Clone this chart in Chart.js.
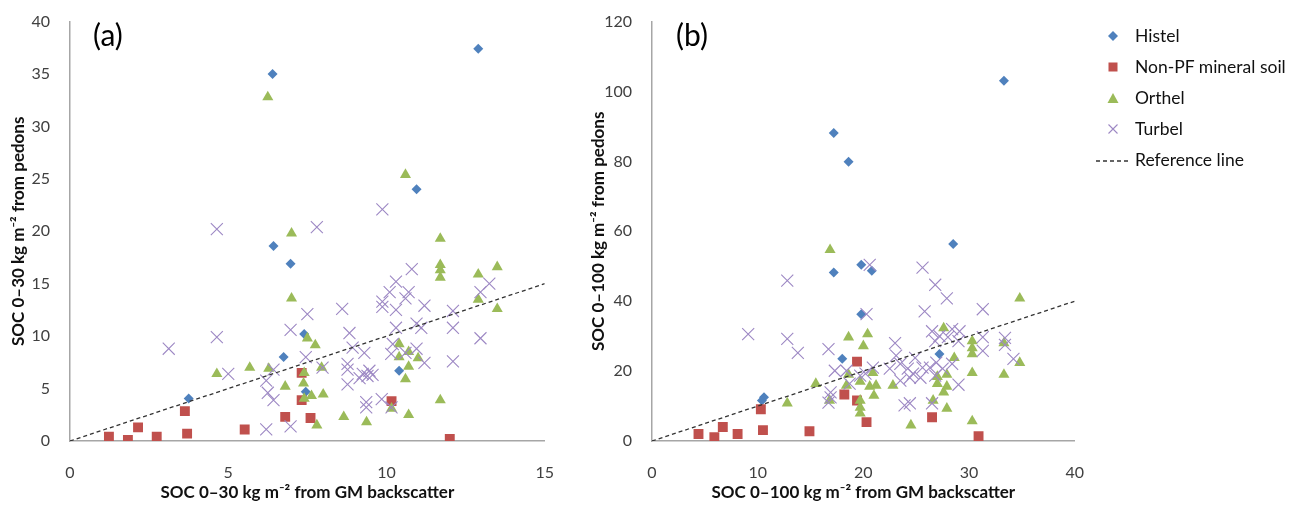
<!DOCTYPE html>
<html>
<head>
<meta charset="utf-8">
<title>SOC from pedons vs GM backscatter</title>
<script src="https://cdn.jsdelivr.net/npm/chart.js@4.4.0/dist/chart.umd.min.js"></script>
<style>
  html, body { margin: 0; padding: 0; background: #fff; }
  body { width: 1298px; height: 506px; position: relative; overflow: hidden; font-family: Lato, "Noto Sans", sans-serif; }
  canvas { position: absolute; top: 0; }
  #chartA { left: 0; }
  #chartB { left: 580px; }
  .tag { position: absolute; top: 16px; font-size: 30px; color: #000; }
  #legend { position: absolute; left: 1096px; top: 20px; font-size: 17.5px; color: #111; }
  #legend .row { height: 31px; display: flex; align-items: center; }
  #legend svg { width: 34px; height: 20px; margin-right: 5px; }
</style>
</head>
<body>
<canvas id="chartA" width="568" height="506"></canvas>
<canvas id="chartB" width="518" height="506"></canvas>
<div class="tag" style="left:93px">(a)</div>
<div class="tag" style="left:676px">(b)</div>

<div id="legend">
  <div class="row"><svg viewBox="0 0 34 20"><polygon points="17,5 22,10 17,15 12,10" fill="#4F81BD"/></svg>Histel</div>
  <div class="row"><svg viewBox="0 0 34 20"><rect x="12.5" y="5.5" width="9" height="9" fill="#C0504D"/></svg>Non-PF mineral soil</div>
  <div class="row"><svg viewBox="0 0 34 20"><polygon points="17,5 22.5,15 11.5,15" fill="#9BBB59"/></svg>Orthel</div>
  <div class="row"><svg viewBox="0 0 34 20"><path d="M12.5 5.5 L21.5 14.5 M21.5 5.5 L12.5 14.5" stroke="#9D88C4" stroke-width="1.1"/></svg>Turbel</div>
  <div class="row"><svg viewBox="0 0 34 20"><line x1="0" y1="11" x2="33" y2="11" stroke="#333" stroke-width="1.3" stroke-dasharray="4,3"/></svg>Reference line</div>
</div>

<script>
// (a) SOC 0-30 cm, [backscatter estimate, pedon value]
var histelA = [[6.4, 35.0], [12.9, 37.4], [10.95, 24.0], [6.43, 18.6], [6.97, 16.9], [7.4, 10.2], [6.75, 8.0], [3.75, 4.05], [10.4, 6.7], [7.45, 4.7]];
var nonPfA = [[1.23, 0.4], [1.83, 0.1], [2.15, 1.3], [2.74, 0.4], [3.7, 0.7], [3.63, 2.85], [5.52, 1.1], [6.8, 2.3], [7.32, 6.5], [7.32, 3.9], [7.6, 2.2], [10.16, 3.8], [12.0, 0.2]];
var orthelA = [[6.25, 32.8], [10.6, 25.4], [7.0, 19.8], [7.0, 13.6], [7.5, 9.8], [4.64, 6.4], [5.68, 7.0], [6.28, 6.9], [7.4, 6.5], [6.8, 5.2], [7.38, 5.5], [7.4, 4.05],
  [11.7, 19.3], [11.7, 16.8], [11.7, 16.3], [11.7, 15.6], [13.5, 16.6], [12.9, 15.9], [12.9, 13.5], [13.5, 12.6], [10.4, 9.25], [7.75, 9.15], [10.4, 8.0], [10.7, 8.5],
  [11.0, 7.9], [7.95, 7.0], [10.7, 7.1], [10.6, 5.9], [7.63, 4.3], [8.0, 4.45], [10.16, 3.1], [11.7, 3.9], [8.65, 2.3], [9.37, 1.8], [10.7, 2.5], [7.8, 1.5]];
var turbelA = [[9.87, 22.1], [7.8, 20.4], [4.64, 20.2], [7.5, 12.1], [6.97, 10.6], [4.64, 9.9], [3.12, 8.8], [7.45, 8.0], [5.0, 6.4], [6.43, 6.8], [6.2, 5.75],
  [6.25, 4.6], [6.43, 3.9], [6.2, 1.1], [6.97, 1.4], [10.8, 16.4], [10.3, 15.2], [13.25, 15.0], [12.97, 14.2], [10.1, 14.2], [10.7, 14.2], [9.87, 13.3], [10.6, 13.6],
  [9.87, 12.8], [10.3, 12.5], [11.2, 12.9], [8.6, 12.6], [12.1, 12.4], [10.95, 11.2], [11.1, 10.8], [10.3, 10.8], [12.1, 10.8], [12.97, 9.8], [8.83, 10.3], [8.93, 8.9],
  [10.2, 9.25], [9.3, 8.4], [10.15, 8.3], [10.6, 8.4], [10.95, 8.8], [11.2, 7.45], [12.1, 7.6], [7.98, 7.0], [8.77, 7.35], [8.77, 6.8], [8.77, 5.4], [9.25, 6.4],
  [9.46, 6.7], [9.4, 6.2], [9.56, 6.3], [9.15, 6.0], [9.85, 4.0], [9.36, 3.7], [9.36, 3.2], [10.16, 3.2]];
var refA = [[0, 0], [15, 15]];

// (b) SOC 0-100 cm
var histelB = [[17.2, 88.1], [18.6, 79.9], [33.3, 103.1], [19.8, 50.4], [20.8, 48.7], [17.2, 48.2], [19.8, 36.3], [18.0, 23.5], [10.6, 12.5], [10.4, 11.6], [28.5, 56.4], [27.2, 24.9]];
var nonPfB = [[19.4, 22.7], [18.2, 13.3], [19.4, 11.6], [20.3, 5.4], [10.3, 9.1], [6.7, 4.0], [4.4, 2.0], [5.9, 1.1], [8.1, 2.0], [10.5, 3.1], [14.9, 2.8], [26.5, 6.8], [30.9, 1.4]];
var orthelB = [[16.85, 54.7], [18.6, 29.7], [20.4, 30.6], [20.0, 27.2], [18.6, 19.0], [19.7, 17.0], [15.5, 16.4], [18.4, 15.9], [16.8, 11.6], [19.7, 11.6], [19.7, 9.6],
  [19.7, 7.9], [12.8, 10.8], [34.8, 40.8], [27.6, 32.3], [30.3, 28.6], [30.3, 26.6], [30.3, 24.9], [33.3, 28.0], [34.8, 22.4], [28.6, 23.8], [20.9, 19.5], [20.6, 15.6],
  [21.2, 15.9], [21.0, 13.0], [22.8, 15.9], [27.0, 18.4], [27.0, 16.4], [27.9, 19.0], [27.9, 15.6], [27.6, 13.9], [30.3, 19.5], [33.3, 19.0], [26.6, 11.6], [27.9, 9.3],
  [24.5, 4.5], [30.3, 5.7]];
var turbelB = [[12.8, 45.9], [20.3, 36.3], [9.1, 30.6], [12.8, 29.2], [13.8, 25.2], [16.7, 26.3], [17.3, 20.1], [18.4, 20.1], [19.7, 18.7], [18.7, 16.4], [16.9, 13.9],
  [16.9, 12.5], [16.7, 11.0], [20.6, 50.4], [25.6, 49.6], [26.8, 44.7], [27.9, 40.8], [25.8, 37.1], [31.3, 37.7], [26.5, 31.4], [27.2, 30.0], [28.4, 32.0], [29.1, 31.4],
  [29.0, 28.6], [28.0, 29.7], [26.8, 28.6], [31.3, 29.7], [31.3, 25.8], [33.4, 29.5], [33.4, 27.5], [34.2, 23.5], [23.0, 28.0], [23.1, 24.4], [24.9, 23.8], [22.5, 20.7],
  [23.5, 22.1], [24.2, 20.7], [24.7, 19.3], [25.6, 21.0], [25.4, 18.1], [24.4, 18.1], [23.5, 17.3], [26.9, 22.4], [26.3, 21.0], [27.5, 20.7], [28.4, 22.1], [26.8, 18.7],
  [20.9, 21.0], [20.2, 19.3], [29.0, 16.1], [23.9, 10.2], [24.4, 10.8], [26.5, 10.8]];
var refB = [[0, 0], [40, 40]];

// axis ticks
var xTicksA = [0, 5, 10, 15];
var yTicksA = [0, 5, 10, 15, 20, 25, 30, 35, 40];
var xTicksB = [0, 10, 20, 30, 40];
var yTicksB = [0, 20, 40, 60, 80, 100, 120];

function pts(list) {
  return list.map(function (p) { return { x: p[0], y: p[1] }; });
}

function makeDatasets(histel, nonPf, orthel, turbel, ref) {
  return [
    { label: 'Histel', data: pts(histel), pointStyle: 'rectRot', pointRadius: 5, backgroundColor: '#4F81BD', borderColor: '#4F81BD', borderWidth: 0, order: 4 },
    { label: 'Non-PF mineral soil', data: pts(nonPf), pointStyle: 'rect', pointRadius: 7, backgroundColor: '#C0504D', borderColor: '#C0504D', borderWidth: 0, order: 3 },
    { label: 'Orthel', data: pts(orthel), pointStyle: 'triangle', pointRadius: 6.4, backgroundColor: '#9BBB59', borderColor: '#9BBB59', borderWidth: 0, order: 2 },
    { label: 'Turbel', data: pts(turbel), pointStyle: 'crossRot', pointRadius: 8.5, backgroundColor: '#9D88C4', borderColor: '#9D88C4', borderWidth: 1.1, order: 1 },
    { label: 'Reference line', data: pts(ref), showLine: true, pointRadius: 0, borderColor: '#333', borderWidth: 1.3, borderDash: [4, 3], order: 0 }
  ];
}

function axis(ticks, title, side) {
  var isX = side === 'x';
  return {
    type: 'linear',
    min: ticks[0],
    max: ticks[ticks.length - 1],
    afterBuildTicks: function (s) { s.ticks = ticks.map(function (v) { return { value: v }; }); },
    afterFit: isX ? function (s) { s.height = 65; } : function (s) { s.width = s.chart.canvas.id === 'chartA' ? 70 : 72; },
    grid: { display: false },
    border: { color: '#A6A6A6', width: 1.5 },
    ticks: { color: '#404040', font: { family: 'Lato', size: 16 }, padding: isX ? 14 : 12 },
    title: {
      display: true, text: title, color: '#111',
      font: { family: 'Lato', size: 17, weight: 'bold' },
      padding: isX ? { top: 0, bottom: 3 } : { top: 8, bottom: 0 }
    }
  };
}

// the last x label plus its padding sets the right margin, so the canvas width decides where the plot ends
function makeChart(id, sets, xTicks, yTicks, xTitle, yTitle) {
  new Chart(document.getElementById(id), {
    type: 'scatter',
    data: { datasets: sets },
    options: {
      responsive: false,
      animation: false,
      layout: { padding: { top: 17, right: 0, bottom: 0, left: 0 } },
      plugins: { legend: { display: false }, tooltip: { enabled: false } },
      scales: {
        x: axis(xTicks, xTitle, 'x'),
        y: axis(yTicks, yTitle, 'y')
      }
    }
  });
}

makeChart('chartA', makeDatasets(histelA, nonPfA, orthelA, turbelA, refA), xTicksA, yTicksA,
  'SOC 0\u201330 kg m\u207B\u00B2 from GM backscatter', 'SOC 0\u201330 kg m\u207B\u00B2 from pedons');
makeChart('chartB', makeDatasets(histelB, nonPfB, orthelB, turbelB, refB), xTicksB, yTicksB,
  'SOC 0\u2013100 kg m\u207B\u00B2 from GM backscatter', 'SOC 0\u2013100 kg m\u207B\u00B2 from pedons');
</script>
</body>
</html>
